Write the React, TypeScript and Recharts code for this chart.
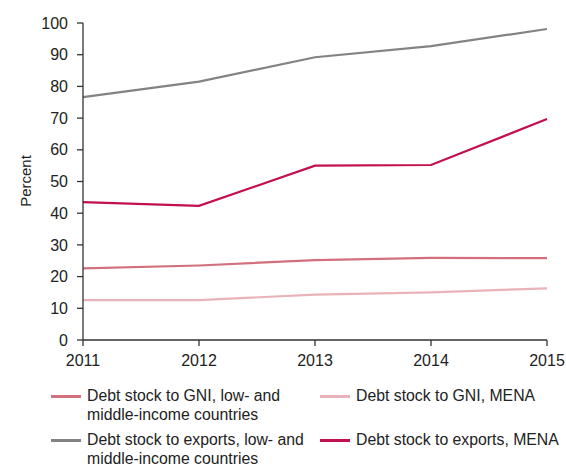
import { Line, LineChart, XAxis, YAxis } from "recharts";

const years = ["2011", "2012", "2013", "2014", "2015"];
const gniLmic = [22.6, 23.5, 25.2, 25.9, 25.8];
const gniMena = [12.6, 12.6, 14.3, 15.0, 16.3];
const exportsLmic = [76.6, 81.5, 89.2, 92.7, 98.1];
const exportsMena = [43.5, 42.3, 55.0, 55.2, 69.7];
const yTicks = [0, 10, 20, 30, 40, 50, 60, 70, 80, 90, 100];

const data = years.map((year, i) => ({
  year,
  gniLmic: gniLmic[i],
  gniMena: gniMena[i],
  exportsLmic: exportsLmic[i],
  exportsMena: exportsMena[i],
}));

const font = "'Liberation Sans', Arial, sans-serif";
const ink = "#222";
const axis = "#333";

const legendItems = [
  { color: "#d2707e", lines: ["Debt stock to GNI, low- and", "middle-income countries"], left: 51, top: 386 },
  { color: "#e9b3b9", lines: ["Debt stock to GNI, MENA"], left: 320, top: 386 },
  { color: "#838385", lines: ["Debt stock to exports, low- and", "middle-income countries"], left: 51, top: 430 },
  { color: "#c30f4f", lines: ["Debt stock to exports, MENA"], left: 320, top: 430 },
];

function Legend() {
  return (
    <>
      {legendItems.map((it) => (
        <div
          key={it.lines[0]}
          style={{
            position: "absolute",
            left: it.left,
            top: it.top,
            display: "flex",
            fontSize: 15.8,
            lineHeight: "19px",
            color: ink,
            whiteSpace: "nowrap",
          }}
        >
          <div style={{ width: 30, height: 3, background: it.color, marginTop: 9, marginRight: 6 }} />
          <div>
            {it.lines.map((l) => (
              <div key={l}>{l}</div>
            ))}
          </div>
        </div>
      ))}
    </>
  );
}

export default function App() {
  return (
    <div style={{ position: "absolute", left: 0, top: 0, width: 566, height: 466, background: "#fff", fontFamily: font }}>
      <LineChart width={566} height={380} data={data} margin={{ top: 23, right: 19, left: 23, bottom: 10 }}>
        <XAxis
          dataKey="year"
          height={30}
          axisLine={{ stroke: axis, strokeWidth: 1.3 }}
          tickLine={{ stroke: axis, strokeWidth: 1.3 }}
          tickSize={6}
          tickMargin={9}
          interval={0}
          tick={{ fill: ink, fontSize: 16, fontFamily: font }}
        />
        <YAxis
          width={60}
          domain={[0, 100]}
          ticks={yTicks}
          axisLine={{ stroke: axis, strokeWidth: 1.3 }}
          tickLine={{ stroke: axis, strokeWidth: 1.3 }}
          tickSize={6}
          tickMargin={9}
          tick={{ fill: ink, fontSize: 16, fontFamily: font }}
        />
        <Line dataKey="gniMena" stroke="#e9b3b9" strokeWidth={2.2} dot={false} isAnimationActive={false} />
        <Line dataKey="gniLmic" stroke="#d2707e" strokeWidth={2.2} dot={false} isAnimationActive={false} />
        <Line dataKey="exportsLmic" stroke="#838385" strokeWidth={2.2} dot={false} isAnimationActive={false} />
        <Line dataKey="exportsMena" stroke="#c30f4f" strokeWidth={2.2} dot={false} isAnimationActive={false} />
      </LineChart>
      <div
        style={{
          position: "absolute",
          left: 25,
          top: 181,
          transform: "translate(-50%, -50%) rotate(-90deg)",
          fontSize: 15,
          color: ink,
          whiteSpace: "nowrap",
        }}
      >
        Percent
      </div>
      <Legend />
    </div>
  );
}
